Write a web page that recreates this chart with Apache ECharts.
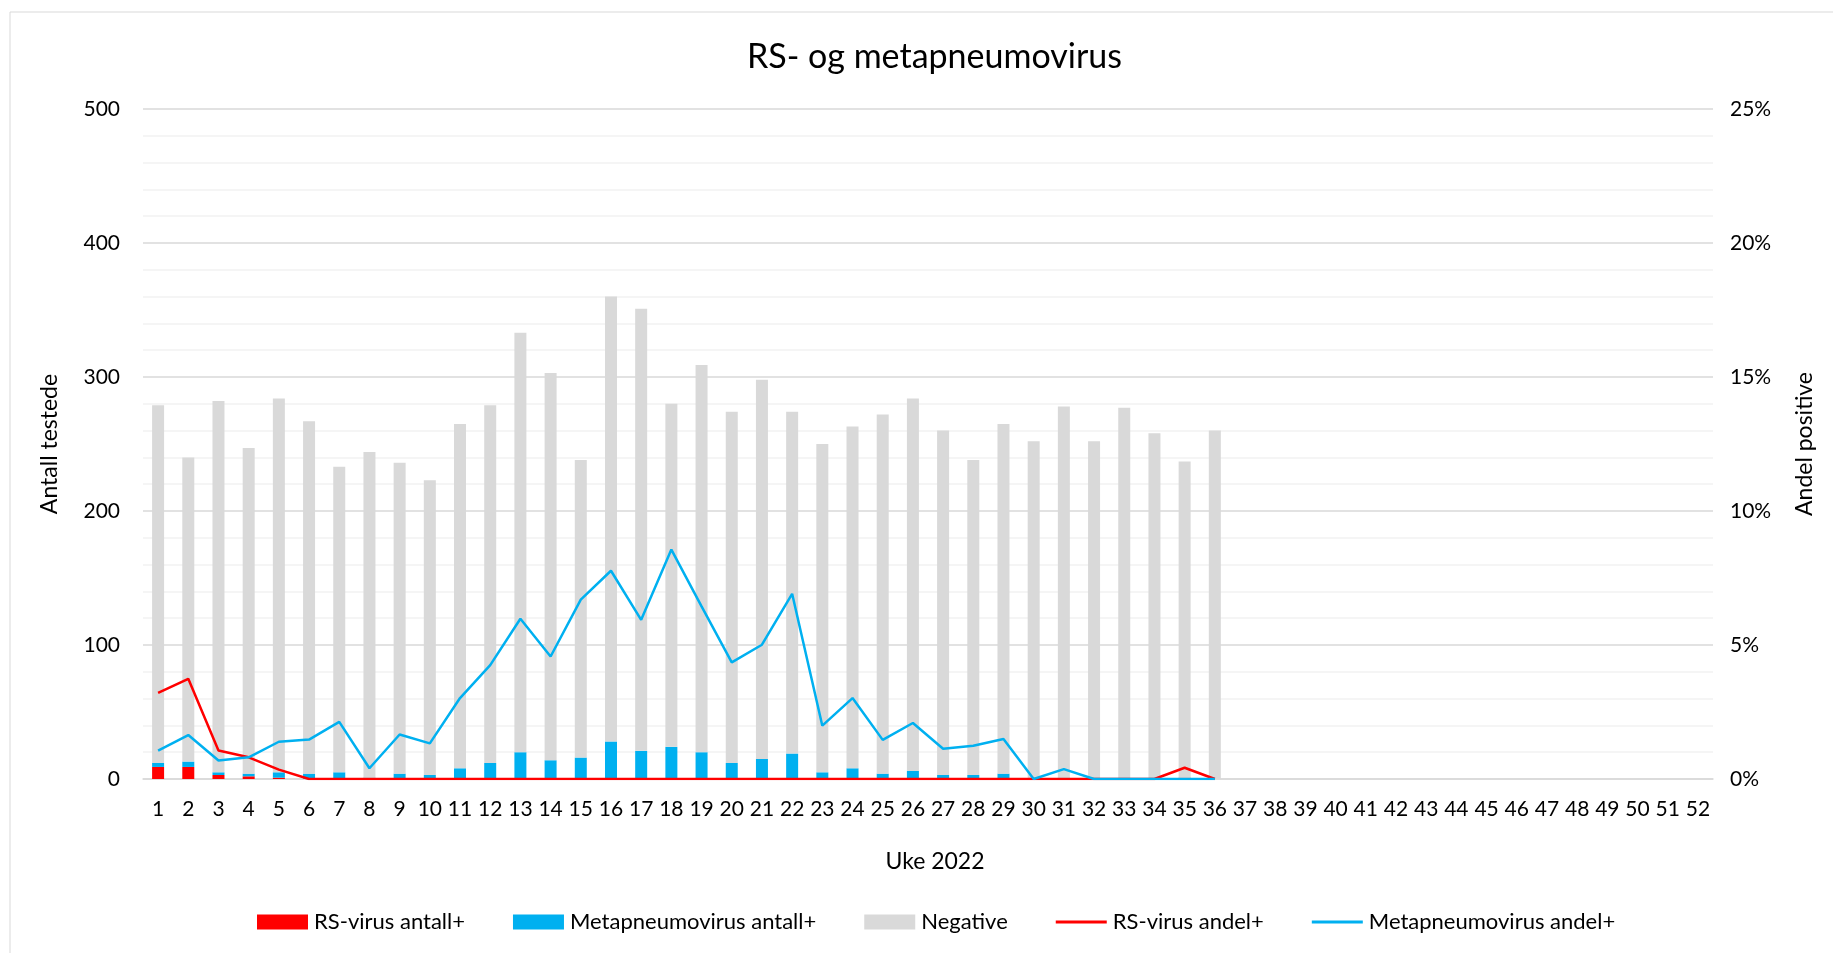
<!DOCTYPE html>
<html>
<head>
<meta charset="utf-8">
<script src="https://cdn.jsdelivr.net/npm/echarts@6/dist/echarts.min.js"></script>
<style>
  html, body { margin: 0; padding: 0; background: #fff; }
  #chart { width: 1833px; height: 953px; }
</style>
</head>
<body>
<div id="chart"></div>
<script>
// uke 1..52
const weeks = Array.from({ length: 52 }, (_, i) => String(i + 1))

// antall per uke (uke 1-36)
const rsCount = [9, 9, 3, 2, 1, 0, 0, 0, 0, 0, 0, 0, 0, 0, 0, 0, 0, 0, 0, 0, 0, 0, 0, 0, 0, 0, 0, 0, 0, 0, 0, 0, 0, 0, 1, 0]
const metaCount = [3, 4, 2, 2, 4, 4, 5, 1, 4, 3, 8, 12, 20, 14, 16, 28, 21, 24, 20, 12, 15, 19, 5, 8, 4, 6, 3, 3, 4, 0, 1, 0, 0, 0, 0, 0]
const negCount = [267, 227, 277, 243, 279, 263, 228, 243, 232, 220, 257, 267, 313, 289, 222, 332, 330, 256, 289, 262, 283, 255, 245, 255, 268, 278, 257, 235, 261, 252, 277, 252, 277, 258, 236, 260]

// andel positive (%)
const rsShare = [3.21, 3.74, 1.06, 0.81, 0.35, 0, 0, 0, 0, 0, 0, 0, 0, 0, 0, 0, 0, 0, 0, 0, 0, 0, 0, 0, 0, 0, 0, 0, 0, 0, 0, 0, 0, 0, 0.42, 0]
const metaShare = [1.06, 1.64, 0.69, 0.81, 1.39, 1.47, 2.13, 0.40, 1.66, 1.33, 3.02, 4.25, 5.98, 4.57, 6.69, 7.77, 5.94, 8.56, 6.44, 4.35, 5.01, 6.91, 1.99, 3.02, 1.46, 2.09, 1.13, 1.24, 1.49, 0, 0.37, 0, 0, 0, 0, 0]

const yLeftTicks = { min: 0, max: 500, interval: 100 }
const yRightTicks = { min: 0, max: 25, interval: 5 }

const FONT = 'Lato'
const LINE_ICON = 'path://M0 0 H51 V3 H0 Z'
const chart = echarts.init(document.getElementById('chart'))

const barBase = { type: 'bar', stack: 'tot', barWidth: 12, yAxisIndex: 0 }
const lineBase = { type: 'line', yAxisIndex: 1, symbol: 'none', showSymbol: false }

chart.setOption({
  animation: false,
  textStyle: { fontFamily: FONT, color: '#000' },
  graphic: [{
    type: 'rect',
    shape: { x: 10, y: 12, width: 1900, height: 1000 },
    style: { fill: 'none', stroke: '#d9d9d9', lineWidth: 1 },
    silent: true
  }],
  title: {
    text: 'RS- og metapneumovirus',
    left: 742,
    top: 35,
    textStyle: { fontFamily: FONT, fontSize: 34, fontWeight: 'normal', color: '#000' }
  },
  legend: {
    bottom: 15,
    left: 252,
    itemWidth: 51,
    itemHeight: 15,
    itemGap: 48,
    textStyle: { fontFamily: FONT, fontSize: 22, color: '#000', padding: [0, 0, 0, 1] },
    data: [
      { name: 'RS-virus antall+', icon: 'rect' },
      { name: 'Metapneumovirus antall+', icon: 'rect' },
      { name: 'Negative', icon: 'rect' },
      { name: 'RS-virus andel+', icon: LINE_ICON },
      { name: 'Metapneumovirus andel+', icon: LINE_ICON }
    ]
  },
  grid: { left: 143, right: 120, top: 109, bottom: 174 },
  xAxis: {
    type: 'category',
    data: weeks,
    name: 'Uke 2022',
    nameLocation: 'middle',
    nameGap: 71,
    nameTextStyle: { fontSize: 23, color: '#000', padding: [0, 0, 0, 14] },
    axisLine: { lineStyle: { color: '#d9d9d9', width: 1.5 } },
    axisTick: { show: false },
    axisLabel: { fontSize: 21, color: '#000', margin: 20, interval: 0 }
  },
  yAxis: [{
    type: 'value',
    ...yLeftTicks,
    name: 'Antall testede',
    nameLocation: 'middle',
    nameGap: 82,
    nameTextStyle: { fontSize: 23, color: '#000' },
    axisLine: { show: false },
    axisTick: { show: false },
    axisLabel: { fontSize: 21, color: '#000', margin: 23 },
    splitLine: { lineStyle: { color: '#d9d9d9', width: 1.5 } },
    minorTick: { show: false, splitNumber: 5 },
    minorSplitLine: { show: true, lineStyle: { color: '#f2f2f2', width: 1.5 } }
  }, {
    type: 'value',
    ...yRightTicks,
    name: 'Andel positive',
    nameLocation: 'middle',
    nameGap: 80,
    nameRotate: 90,
    nameTextStyle: { fontSize: 23, color: '#000' },
    axisLine: { show: false },
    axisTick: { show: false },
    axisLabel: { fontSize: 21, color: '#000', margin: 17, formatter: '{value}%' },
    splitLine: { show: false }
  }],
  series: [
    { ...barBase, name: 'RS-virus antall+', data: rsCount, itemStyle: { color: '#ff0000' } },
    { ...barBase, name: 'Metapneumovirus antall+', data: metaCount, itemStyle: { color: '#00b0f0' } },
    { ...barBase, name: 'Negative', data: negCount, itemStyle: { color: '#d9d9d9' } },
    { ...lineBase, name: 'RS-virus andel+', data: rsShare, itemStyle: { color: '#ff0000' }, lineStyle: { width: 2.5, color: '#ff0000' } },
    { ...lineBase, name: 'Metapneumovirus andel+', data: metaShare, itemStyle: { color: '#00b0f0' }, lineStyle: { width: 2.5, color: '#00b0f0' } }
  ]
})
</script>
</body>
</html>
